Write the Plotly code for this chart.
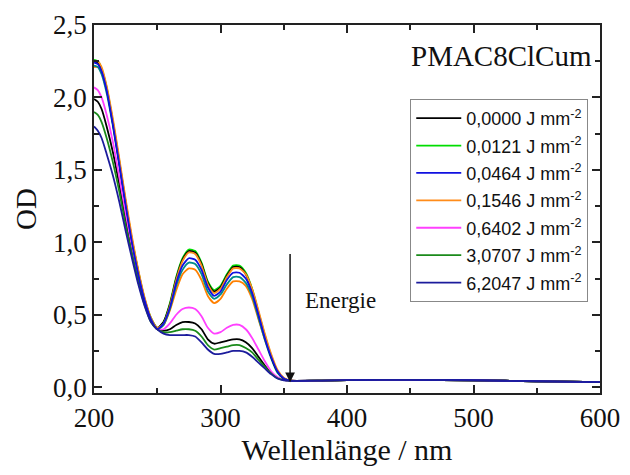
import plotly.graph_objects as go

wavelength = [200,203,206,210,215,220,225,230,235,240,245,250,255,260,265,270,275,280,285,290,
              295,300,305,310,315,320,325,330,335,340,345,350,355,360,380,400,450,500,550,600]

od_0000 = [2.25,2.24,2.19,2.06,1.82,1.55,1.27,1.01,0.79,0.60,0.47,0.41,0.45,0.57,0.75,0.88,0.94,0.93,0.85,0.72,
           0.66,0.69,0.77,0.83,0.83,0.78,0.67,0.51,0.35,0.21,0.11,0.06,0.046,0.044,0.046,0.049,0.051,0.048,0.041,0.035]
od_0121 = [2.26,2.25,2.20,2.07,1.83,1.56,1.28,1.02,0.80,0.61,0.48,0.41,0.45,0.58,0.76,0.89,0.95,0.94,0.86,0.73,
           0.67,0.70,0.78,0.84,0.84,0.79,0.68,0.52,0.36,0.22,0.11,0.06,0.046,0.044,0.046,0.049,0.051,0.048,0.041,0.035]
od_0464 = [2.24,2.23,2.18,2.05,1.81,1.54,1.26,1.00,0.78,0.60,0.47,0.40,0.44,0.55,0.72,0.84,0.89,0.88,0.81,0.69,
           0.63,0.66,0.74,0.79,0.79,0.75,0.65,0.50,0.34,0.21,0.11,0.06,0.046,0.044,0.046,0.049,0.051,0.048,0.041,0.035]
od_1546 = [2.25,2.25,2.21,2.08,1.85,1.58,1.30,1.04,0.81,0.62,0.48,0.41,0.44,0.56,0.74,0.87,0.93,0.92,0.84,0.71,
           0.65,0.68,0.76,0.82,0.82,0.78,0.68,0.53,0.37,0.23,0.12,0.065,0.047,0.044,0.046,0.049,0.051,0.048,0.041,0.035]
od_teal = [2.22,2.21,2.16,2.03,1.80,1.53,1.25,1.00,0.78,0.60,0.47,0.40,0.43,0.54,0.70,0.81,0.86,0.85,0.78,0.66,
           0.61,0.64,0.71,0.76,0.76,0.72,0.63,0.48,0.33,0.20,0.10,0.06,0.046,0.044,0.046,0.049,0.051,0.048,0.041,0.035]
od_orange2 = [2.21,2.21,2.17,2.05,1.83,1.56,1.28,1.02,0.80,0.61,0.47,0.40,0.43,0.53,0.67,0.78,0.82,0.81,0.74,0.63,
              0.58,0.61,0.68,0.73,0.73,0.70,0.61,0.47,0.33,0.21,0.11,0.06,0.046,0.044,0.046,0.049,0.051,0.048,0.041,0.035]
od_6402 = [2.07,2.05,2.00,1.88,1.69,1.45,1.20,0.97,0.77,0.59,0.46,0.40,0.40,0.44,0.50,0.54,0.55,0.54,0.49,0.41,
           0.37,0.38,0.41,0.43,0.43,0.40,0.34,0.26,0.18,0.11,0.07,0.05,0.045,0.044,0.046,0.049,0.051,0.048,0.041,0.035]
od_black2 = [1.99,1.97,1.92,1.80,1.62,1.40,1.16,0.94,0.75,0.58,0.46,0.40,0.39,0.40,0.43,0.45,0.45,0.44,0.40,0.33,
             0.30,0.31,0.32,0.33,0.33,0.31,0.27,0.21,0.15,0.10,0.065,0.05,0.045,0.044,0.046,0.049,0.051,0.048,0.041,0.035]
od_30707 = [1.90,1.88,1.83,1.72,1.55,1.35,1.12,0.92,0.73,0.57,0.45,0.40,0.38,0.38,0.39,0.40,0.40,0.39,0.35,0.29,
            0.26,0.27,0.28,0.29,0.29,0.27,0.24,0.19,0.14,0.095,0.062,0.05,0.045,0.044,0.046,0.049,0.051,0.048,0.041,0.035]
od_62047 = [1.80,1.77,1.72,1.61,1.46,1.28,1.08,0.89,0.71,0.56,0.45,0.40,0.37,0.36,0.36,0.36,0.36,0.35,0.31,0.26,
            0.23,0.23,0.24,0.25,0.25,0.24,0.21,0.17,0.13,0.09,0.06,0.048,0.045,0.044,0.046,0.049,0.051,0.048,0.041,0.035]

x_ticks = [200, 300, 400, 500, 600]
y_ticks = [0.0, 0.5, 1.0, 1.5, 2.0, 2.5]

# (values, color, legend label or None, legend rank) in drawing order
series = [
    (od_black2, "#000000", None, 0),
    (od_orange2, "#ff8000", None, 0),
    (od_teal, "#008b8b", None, 0),
    (od_6402, "#ff40ff", "0,6402 J mm<sup>-2</sup>", 5),
    (od_30707, "#1a8a1a", "3,0707 J mm<sup>-2</sup>", 6),
    (od_0121, "#00dd00", "0,0121 J mm<sup>-2</sup>", 2),
    (od_0000, "#000000", "0,0000 J mm<sup>-2</sup>", 1),
    (od_1546, "#ff8c1a", "0,1546 J mm<sup>-2</sup>", 4),
    (od_0464, "#1010e0", "0,0464 J mm<sup>-2</sup>", 3),
    (od_62047, "#1c1c9c", "6,2047 J mm<sup>-2</sup>", 7),
]

fig = go.Figure()
for i, (vals, col, name, rank) in enumerate(series):
    fig.add_trace(go.Scatter(
        x=wavelength, y=vals, mode="lines",
        line=dict(color=col, width=1.8, shape="spline", smoothing=0.6),
        name=name if name else "",
        showlegend=name is not None,
        legendgroup="g%d" % i,
        legendrank=rank if rank else 1000,
    ))

axis_common = dict(
    showline=True, linecolor="#222222", linewidth=1.5, mirror="ticks",
    ticks="inside", ticklen=8, tickwidth=1.5, tickcolor="#222222",
    showgrid=False, zeroline=False, automargin=False,
    tickfont=dict(family="Liberation Serif", size=27, color="#111111"),
)

fig.update_xaxes(
    range=[200, 600], tickvals=x_ticks, ticktext=[str(v) for v in x_ticks],
    minor=dict(ticks="inside", ticklen=5, tickwidth=1.5, tickcolor="#222222", dtick=50),
    title=dict(text="Wellenlänge / nm", font=dict(family="Liberation Serif", size=30, color="#111111"), standoff=4),
    **axis_common,
)
fig.update_yaxes(
    range=[-0.04, 2.5], tickvals=y_ticks, tickformat=".1f",
    minor=dict(ticks="inside", ticklen=5, tickwidth=1.5, tickcolor="#222222", dtick=0.25),
    title=dict(text="OD", font=dict(family="Liberation Serif", size=29, color="#111111"), standoff=8),
    **axis_common,
)

fig.add_annotation(
    x=355, y=0.035, ax=355, ay=0.93, xref="x", yref="y", axref="x", ayref="y",
    text="", showarrow=True, arrowhead=2, arrowsize=1.3, arrowwidth=1.5, arrowcolor="#111111",
)
fig.add_annotation(
    x=395, y=0.60, xref="x", yref="y", text="Energie", showarrow=False,
    font=dict(family="Liberation Serif", size=23, color="#111111"),
)
fig.add_annotation(
    x=0.988, y=0.915, xref="paper", yref="paper", xanchor="right", yanchor="middle",
    text="PMAC8ClCum", showarrow=False,
    font=dict(family="Liberation Serif", size=29, color="#111111"),
)

# page body has an 8px margin, so the figure is sized/margined to land the plot frame
# at the reference position inside the 630x475 window
fig.update_layout(
    width=622, height=467,
    margin=dict(l=86, r=30, t=17, b=82, autoexpand=False),
    paper_bgcolor="white", plot_bgcolor="white",
    separators=",.",
    legend=dict(
        x=0.625, y=0.799, xanchor="left", yanchor="top",
        bordercolor="#888888", borderwidth=1, bgcolor="white",
        font=dict(family="Liberation Sans", size=18, color="#111111"),
        itemwidth=45, tracegroupgap=1,
    ),
)

fig.write_html("out.html")
